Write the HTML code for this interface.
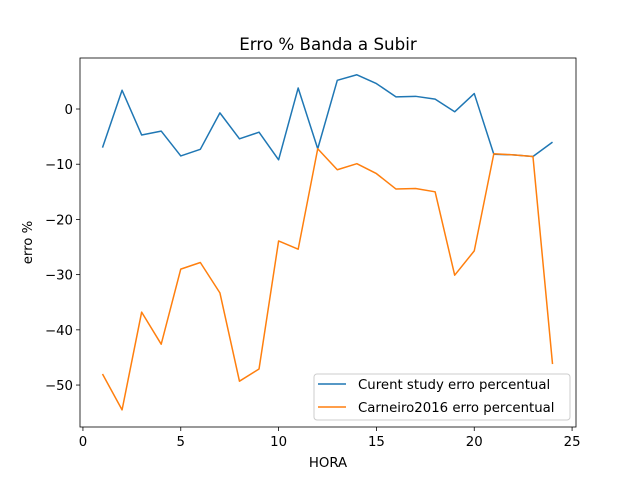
<!DOCTYPE html>
<html><head><meta charset="utf-8"><style>
body{margin:0;background:#fff}
svg{display:block;font-family:"DejaVu Sans","Liberation Sans",sans-serif}
</style></head><body>
<svg id="chart" width="640" height="480" viewBox="0 0 640 480"></svg>
<script>
const hours=[1,2,3,4,5,6,7,8,9,10,11,12,13,14,15,16,17,18,19,20,21,22,23,24];
const currentStudy=[-7,3.4,-4.7,-4,-8.5,-7.3,-0.7,-5.4,-4.2,-9.2,3.8,-7.2,5.2,6.2,4.6,2.2,2.3,1.8,-0.5,2.8,-8.2,-8.3,-8.6,-6];
const carneiro2016=[-48,-54.5,-36.8,-42.6,-29,-27.8,-33.3,-49.3,-47.1,-23.9,-25.4,-7.2,-11,-9.9,-11.7,-14.5,-14.4,-15,-30.1,-25.7,-8.1,-8.3,-8.6,-46.2];
const xTicks=[0,5,10,15,20,25];
const yTicks=[0,-10,-20,-30,-40,-50];
const L=80,R=576,T=58,B=427;
const xMin=-0.15,xMax=25.2,yMin=-57.6,yMax=9.24;
const sx=v=>L+(v-xMin)/(xMax-xMin)*(R-L);
const sy=v=>B-(v-yMin)/(yMax-yMin)*(B-T);
const svg=document.getElementById('chart');
const NS='http://www.w3.org/2000/svg';
function mk(tag,attrs,parent){const e=document.createElementNS(NS,tag);for(const k in attrs)e.setAttribute(k,attrs[k]);(parent||svg).appendChild(e);return e;}
function txt(s,attrs){const e=mk('text',attrs);e.textContent=s;return e;}
xTicks.forEach(v=>{
 const g=mk('g',{});
 
 
 mk('line',{x1:sx(v),x2:sx(v),y1:B,y2:B+4,stroke:'#000','stroke-width':0.8},g);
 const t=mk('text',{x:sx(v),y:B+19,'text-anchor':'middle','font-size':13.3},g);t.textContent=v;
});
yTicks.forEach(v=>{
 const g=mk('g',{});
 
 
 mk('line',{x1:L-4,x2:L,y1:sy(v),y2:sy(v),stroke:'#000','stroke-width':0.8},g);
 const t=mk('text',{x:L-7,y:sy(v)+5,'text-anchor':'end','font-size':13.3},g);t.textContent=v===0?'0':'\u2212'+Math.abs(v);
});
function series(data,color,name){
 const p=mk('polyline',{points:data.map((v,i)=>sx(hours[i])+','+sy(v)).join(' '),fill:'none',stroke:color,'stroke-width':1.5,'stroke-linejoin':'round'});
 
 
}
series(currentStudy,'#1f77b4','current-study-line');
series(carneiro2016,'#ff7f0e','carneiro2016-line');
const frame=mk('rect',{x:L,y:T,width:R-L,height:B-T,fill:'none',stroke:'#000','stroke-width':0.8});


const title=txt('Erro % Banda a Subir',{x:(L+R)/2,y:50,'text-anchor':'middle','font-size':16.7});


const xl=txt('HORA',{x:(L+R)/2,y:467,'text-anchor':'middle','font-size':13.3});


const yl=txt('erro %',{x:0,y:0,'text-anchor':'middle','font-size':13.3,transform:'translate(32,'+((T+B)/2)+') rotate(-90)'});


const lg=mk('g',{});


mk('rect',{x:314,y:374,width:256,height:46,rx:3,fill:'#fff','fill-opacity':0.8,stroke:'#ccc','stroke-width':1},lg);
[['Curent study erro percentual','#1f77b4',389],['Carneiro2016 erro percentual','#ff7f0e',412]].forEach(([s,c,y])=>{
 const e=mk('g',{},lg);
 
 
 mk('line',{x1:318,x2:346,y1:y-5,y2:y-5,stroke:c,'stroke-width':1.5},e);
 const t=mk('text',{x:358,y:y,'font-size':13.3},e);t.textContent=s;
});
</script>
</body></html>
